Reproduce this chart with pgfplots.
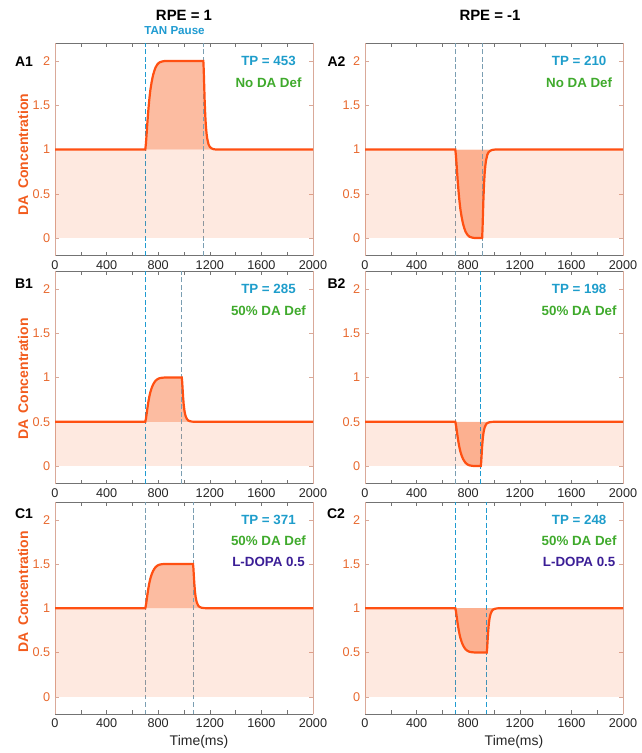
\documentclass[border=0pt]{standalone}
\usepackage{pgfplots}
\pgfplotsset{compat=1.18}
\usepackage{pgfplotstable}
\usepgfplotslibrary{fillbetween}
\usepackage{fontspec}
\setmainfont{Liberation Sans}

\definecolor{daline}{HTML}{FF5012}
\definecolor{dafill}{HTML}{F96A2E}
\definecolor{ytickc}{HTML}{E8692F}
\definecolor{ylab}{HTML}{F25C1E}
\definecolor{tanblue}{HTML}{1F9BD1}
\definecolor{dgrey}{HTML}{7A9EB2}
\definecolor{tpblue}{HTML}{1E9DCB}
\definecolor{defgreen}{HTML}{3FAA2C}
\definecolor{ldopa}{HTML}{3B1E96}
\definecolor{xtxt}{HTML}{262626}
\definecolor{yaxc}{HTML}{D9A999}

\pgfplotstableread{
t v
0 1
700 1
705 1.07
710 1.17
715 1.28
720 1.38
725 1.47
730 1.55
735 1.62
740 1.68
750 1.77
760 1.84
770 1.89
780 1.93
795 1.965
810 1.985
830 1.995
850 2
1150 2
1153 1.9
1156 1.75
1160 1.56
1165 1.38
1170 1.26
1175 1.18
1180 1.125
1190 1.06
1200 1.03
1215 1.012
1230 1.004
1250 1
2000 1
}\dataAa

\pgfplotstableread{
t v
0 1
700 1
705 0.93
710 0.83
715 0.72
720 0.62
725 0.53
730 0.45
735 0.38
740 0.32
750 0.23
760 0.16
770 0.11
780 0.07
795 0.035
810 0.015
830 0.005
850 0
908 0
911 0.1
914 0.25
918 0.44
923 0.62
928 0.74
933 0.82
938 0.875
948 0.94
958 0.97
973 0.988
988 0.996
1008 1
2000 1
}\dataAb

\pgfplotstableread{
t v
0 0.5
700 0.5
705 0.535
710 0.585
715 0.64
720 0.69
725 0.735
730 0.775
735 0.81
740 0.84
750 0.885
760 0.92
770 0.945
780 0.965
795 0.9825
810 0.9925
830 0.9975
850 1
983 1
986 0.95
989 0.875
993 0.78
998 0.69
1003 0.63
1008 0.59
1013 0.5625
1023 0.53
1033 0.515
1048 0.506
1063 0.502
1083 0.5
2000 0.5
}\dataBa

\pgfplotstableread{
t v
0 0.5
700 0.5
705 0.465
710 0.415
715 0.36
720 0.31
725 0.265
730 0.225
735 0.19
740 0.16
750 0.115
760 0.08
770 0.055
780 0.035
795 0.0175
810 0.0075
830 0.0025
850 0
898 0
901 0.05
904 0.125
908 0.22
913 0.31
918 0.37
923 0.41
928 0.4375
938 0.47
948 0.485
963 0.494
978 0.498
998 0.5
2000 0.5
}\dataBb

\pgfplotstableread{
t v
0 1
700 1
705 1.035
710 1.085
715 1.14
720 1.19
725 1.235
730 1.275
735 1.31
740 1.34
750 1.385
760 1.42
770 1.445
780 1.465
795 1.4825
810 1.4925
830 1.4975
850 1.5
1070 1.5
1073 1.45
1076 1.375
1080 1.28
1085 1.19
1090 1.13
1095 1.09
1100 1.0625
1110 1.03
1120 1.015
1135 1.006
1150 1.002
1170 1
2000 1
}\dataCa

\pgfplotstableread{
t v
0 1
700 1
705 0.965
710 0.915
715 0.86
720 0.81
725 0.765
730 0.725
735 0.69
740 0.66
750 0.615
760 0.58
770 0.555
780 0.535
795 0.5175
810 0.5075
830 0.5025
850 0.5
944 0.5
947 0.55
950 0.625
954 0.72
959 0.81
964 0.87
969 0.91
974 0.9375
984 0.97
994 0.985
1009 0.994
1024 0.998
1044 1
2000 1
}\dataCb

\pgfplotsset{
  dapanel/.style={
    scale only axis, width=193.5pt, height=159.3pt,
    anchor=south west,
    xmin=0, xmax=2000, ymin=-0.2, ymax=2.2,
    xtick={0,200,...,2000},
    xticklabels={0,,400,,800,,1200,,1600,,2000},
    ytick={0,0.5,1,1.5,2},
    yticklabels={0,0.5,1,1.5,2},
    tick label style={font=\fontsize{9.5}{11}\selectfont},
    xticklabel style={text=xtxt},
    yticklabel style={text=ytickc},
    /pgf/number format/assume math mode=true,
    major tick length=3pt,
    separate axis lines,
    x axis line style={draw=black!55, line width=0.6pt},
    y axis line style={draw=yaxc, line width=0.6pt},
    xtick style={draw=black!55},
    ytick style={draw=yaxc},
  },
  vline/.style={dashed, dash pattern=on 3.6pt off 2pt, line width=0.75pt, forget plot},
  lightfill/.style={draw=none, fill=dafill, fill opacity=0.15, forget plot},
  darkfill/.style={fill=dafill, fill opacity=0.45, draw=none, forget plot},
  curve/.style={daline, line width=1.65pt, forget plot},
}
\tikzset{ann/.style={font=\fontsize{10}{12}\selectfont\bfseries}}

\begin{document}
\begin{tikzpicture}
\begin{scope}[x=0.75pt,y=-0.75pt]
\path[use as bounding box] (0,0) rectangle (638,753);
\end{scope}

% ---------- A1 ----------
\begin{axis}[dapanel, at={(41.25pt,-191.8pt)}]
\addplot[vline, tanblue] coordinates {(700,-0.2) (700,2.2)};
\addplot[vline, dgrey] coordinates {(1150,-0.2) (1150,2.2)};
\addplot[lightfill] coordinates {(0,0) (2000,0) (2000,1) (0,1)} -- cycle;
\addplot[draw=none, name path=base, forget plot] coordinates {(0,1) (2000,1)};
\addplot[draw=none, name path=crv, forget plot] table[x=t,y=v] {\dataAa};
\addplot[darkfill] fill between[of=crv and base];
\addplot[curve] table[x=t,y=v] {\dataAa};
\node[ann, text=tpblue] at (axis cs:1655,2) {TP = 453};
\node[ann, text=defgreen] at (axis cs:1655,1.76) {No DA Def};
\end{axis}

% ---------- A2 ----------
\begin{axis}[dapanel, at={(273.75pt,-191.8pt)}]
\addplot[vline, dgrey] coordinates {(700,-0.2) (700,2.2)};
\addplot[vline, dgrey] coordinates {(908,-0.2) (908,2.2)};
\addplot[lightfill] coordinates {(0,0) (2000,0) (2000,1) (0,1)} -- cycle;
\addplot[draw=none, name path=base, forget plot] coordinates {(0,1) (2000,1)};
\addplot[draw=none, name path=crv, forget plot] table[x=t,y=v] {\dataAb};
\addplot[darkfill] fill between[of=crv and base];
\addplot[curve] table[x=t,y=v] {\dataAb};
\node[ann, text=tpblue] at (axis cs:1660,2) {TP = 210};
\node[ann, text=defgreen] at (axis cs:1660,1.76) {No DA Def};
\end{axis}

% ---------- B1 ----------
\begin{axis}[dapanel, at={(41.25pt,-362.8pt)}]
\addplot[vline, tanblue] coordinates {(700,-0.2) (700,2.2)};
\addplot[vline, dgrey] coordinates {(983,-0.2) (983,2.2)};
\addplot[lightfill] coordinates {(0,0) (2000,0) (2000,0.5) (0,0.5)} -- cycle;
\addplot[draw=none, name path=base, forget plot] coordinates {(0,0.5) (2000,0.5)};
\addplot[draw=none, name path=crv, forget plot] table[x=t,y=v] {\dataBa};
\addplot[darkfill] fill between[of=crv and base];
\addplot[curve] table[x=t,y=v] {\dataBa};
\node[ann, text=tpblue] at (axis cs:1655,2) {TP = 285};
\node[ann, text=defgreen] at (axis cs:1655,1.76) {50\% DA Def};
\end{axis}

% ---------- B2 ----------
\begin{axis}[dapanel, at={(273.75pt,-362.8pt)}]
\addplot[vline, dgrey] coordinates {(700,-0.2) (700,2.2)};
\addplot[vline, tanblue] coordinates {(898,-0.2) (898,2.2)};
\addplot[lightfill] coordinates {(0,0) (2000,0) (2000,0.5) (0,0.5)} -- cycle;
\addplot[draw=none, name path=base, forget plot] coordinates {(0,0.5) (2000,0.5)};
\addplot[draw=none, name path=crv, forget plot] table[x=t,y=v] {\dataBb};
\addplot[darkfill] fill between[of=crv and base];
\addplot[curve] table[x=t,y=v] {\dataBb};
\node[ann, text=tpblue] at (axis cs:1660,2) {TP = 198};
\node[ann, text=defgreen] at (axis cs:1660,1.76) {50\% DA Def};
\end{axis}

% ---------- C1 ----------
\begin{axis}[dapanel, at={(41.25pt,-535.8pt)}]
\addplot[vline, dgrey] coordinates {(700,-0.2) (700,2.2)};
\addplot[vline, dgrey] coordinates {(1070,-0.2) (1070,2.2)};
\addplot[lightfill] coordinates {(0,0) (2000,0) (2000,1) (0,1)} -- cycle;
\addplot[draw=none, name path=base, forget plot] coordinates {(0,1) (2000,1)};
\addplot[draw=none, name path=crv, forget plot] table[x=t,y=v] {\dataCa};
\addplot[darkfill] fill between[of=crv and base];
\addplot[curve] table[x=t,y=v] {\dataCa};
\node[ann, text=tpblue] at (axis cs:1655,2) {TP = 371};
\node[ann, text=defgreen] at (axis cs:1655,1.76) {50\% DA Def};
\node[ann, text=ldopa] at (axis cs:1655,1.52) {L-DOPA 0.5};
\end{axis}

% ---------- C2 ----------
\begin{axis}[dapanel, at={(273.75pt,-535.8pt)}]
\addplot[vline, tanblue] coordinates {(700,-0.2) (700,2.2)};
\addplot[vline, tanblue] coordinates {(944,-0.2) (944,2.2)};
\addplot[lightfill] coordinates {(0,0) (2000,0) (2000,1) (0,1)} -- cycle;
\addplot[draw=none, name path=base, forget plot] coordinates {(0,1) (2000,1)};
\addplot[draw=none, name path=crv, forget plot] table[x=t,y=v] {\dataCb};
\addplot[darkfill] fill between[of=crv and base];
\addplot[curve] table[x=t,y=v] {\dataCb};
\node[ann, text=tpblue] at (axis cs:1660,2) {TP = 248};
\node[ann, text=defgreen] at (axis cs:1660,1.76) {50\% DA Def};
\node[ann, text=ldopa] at (axis cs:1660,1.52) {L-DOPA 0.5};
\end{axis}

\begin{scope}[x=0.75pt,y=-0.75pt]
\node[font=\fontsize{11.2}{13}\selectfont\bfseries] at (184,15) {RPE = 1};
\node[font=\fontsize{11.2}{13}\selectfont\bfseries] at (490,15) {RPE = -1};
\node[font=\fontsize{8.7}{10}\selectfont\bfseries, text=tanblue] at (174.5,31) {TAN Pause};
\foreach \lab/\xx/\yy in {A1/24/61.7, A2/336.5/61.7, B1/24/283.8, B2/336.5/283.8, C1/24/513.8, C2/336/514}
  \node[font=\fontsize{10.5}{12}\selectfont\bfseries] at (\xx,\yy) {\lab};
\foreach \yy in {154.5, 379, 591.7}
  \node[font=\fontsize{10.5}{12}\selectfont\bfseries, text=ylab, rotate=90] at (23,\yy) {DA\, Concentration};
\node[font=\fontsize{10.5}{12}\selectfont, text=xtxt] at (199,742) {Time(ms)};
\node[font=\fontsize{10.5}{12}\selectfont, text=xtxt] at (514,742) {Time(ms)};
\end{scope}
\end{tikzpicture}
\end{document}
